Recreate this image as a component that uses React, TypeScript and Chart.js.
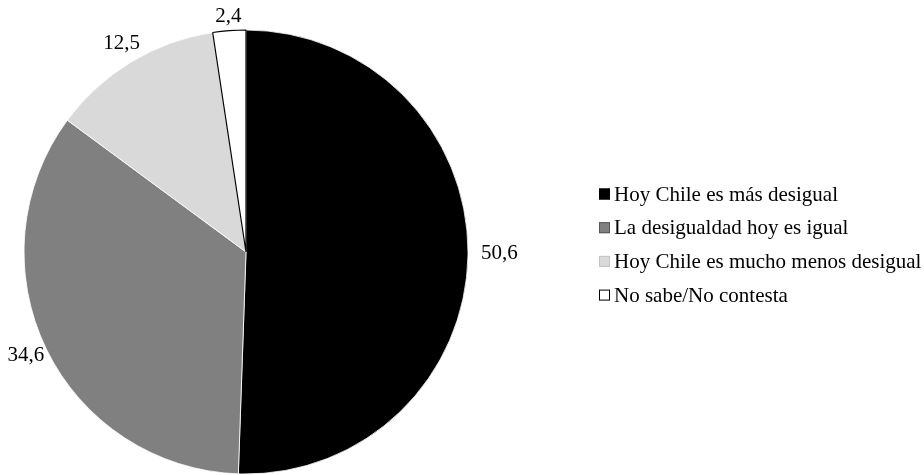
import React, { useEffect, useRef } from 'react';
import { Chart, registerables } from 'chart.js';

Chart.register(...registerables);

const categories = [
  'Hoy Chile es más desigual',
  'La desigualdad hoy es igual',
  'Hoy Chile es mucho menos desigual',
  'No sabe/No contesta',
];
const values = [50.6, 34.6, 12.5, 2.4];
const valueLabels = ['50,6', '34,6', '12,5', '2,4'];
const fillColors = ['#000000', '#808080', '#d9d9d9', '#ffffff'];
const sliceBorders = ['#ffffff', '#ffffff', '#ffffff', '#000000'];
const legendStrokes = ['#000000', '#555555', '#c4c4c4', '#000000'];

const FONT = '21px "Liberation Serif", "Times New Roman", serif';

const valueLabelPlugin = {
  id: 'valueLabels',
  afterDatasetsDraw(chart: any) {
    const ctx = chart.ctx;
    const meta = chart.getDatasetMeta(0);
    ctx.save();
    ctx.font = FONT;
    ctx.fillStyle = '#000';
    ctx.textAlign = 'center';
    ctx.textBaseline = 'middle';
    meta.data.forEach((arc: any, i: number) => {
      const p = arc.getProps(['x', 'y', 'startAngle', 'endAngle', 'outerRadius'], true);
      const a = (p.startAngle + p.endAngle) / 2;
      const c = Math.cos(a);
      const s = Math.sin(a);
      const w = ctx.measureText(valueLabels[i]).width;
      const h = 14;
      const gap = 3 + 10 * Math.max(0, c);
      const d = p.outerRadius + gap + (Math.abs(c) * w) / 2 + (Math.abs(s) * h) / 2;
      ctx.fillText(valueLabels[i], p.x + d * c, p.y + d * s - 3);
    });
    ctx.restore();
  },
};

const legendPlugin = {
  id: 'sideLegend',
  afterDraw(chart: any) {
    const ctx = chart.ctx;
    const x0 = 599;
    const y0 = 194;
    const step = 33.7;
    const box = 11;
    ctx.save();
    ctx.font = FONT;
    ctx.textAlign = 'left';
    ctx.textBaseline = 'middle';
    categories.forEach((label, i) => {
      const y = y0 + i * step;
      ctx.fillStyle = fillColors[i];
      ctx.fillRect(x0, y - box / 2, box, box);
      ctx.strokeStyle = legendStrokes[i];
      ctx.lineWidth = 1;
      ctx.strokeRect(x0 + 0.5, y - box / 2 + 0.5, box - 1, box - 1);
      ctx.fillStyle = '#000';
      ctx.fillText(label, x0 + box + 4, y + 1);
    });
    ctx.restore();
  },
};

export default function App() {
  const canvasRef = useRef<HTMLCanvasElement | null>(null);

  useEffect(() => {
    if (!canvasRef.current) return;
    const chart = new Chart(canvasRef.current, {
      type: 'pie',
      data: {
        labels: categories,
        datasets: [
          {
            data: values,
            backgroundColor: fillColors,
            borderColor: sliceBorders,
            borderWidth: [0.8, 0.8, 0.8, 1.2],
            hoverOffset: 0,
            radius: 222,
          } as any,
        ],
      },
      options: {
        animation: false,
        responsive: true,
        maintainAspectRatio: false,
        layout: { padding: { left: 24, right: 456, top: 30, bottom: 1 } },
        plugins: {
          legend: { display: false },
          tooltip: { enabled: false },
        },
      },
      plugins: [valueLabelPlugin, legendPlugin],
    });
    return () => chart.destroy();
  }, []);

  return (
    <div style={{ position: 'fixed', left: 0, top: 0, width: 924, height: 475, background: '#fff' }}>
      <canvas ref={canvasRef} />
    </div>
  );
}
